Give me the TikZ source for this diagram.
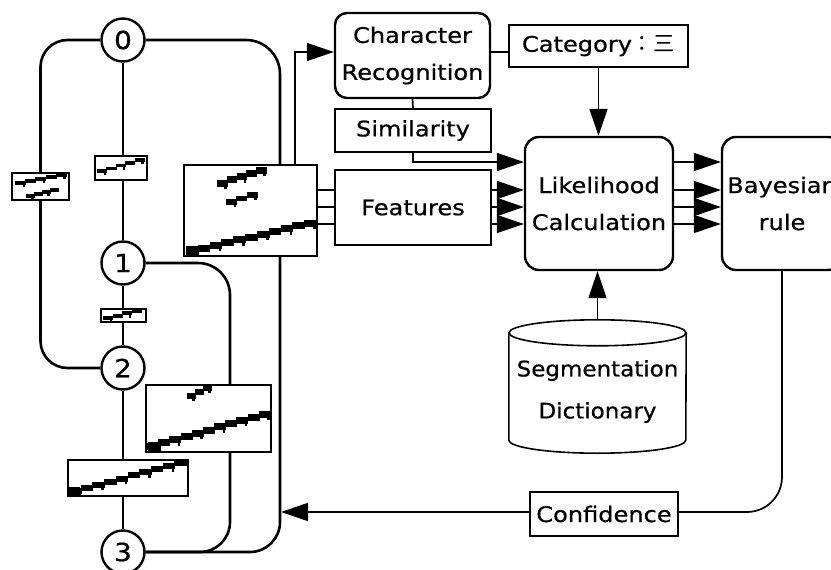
\documentclass[tikz,border=0pt]{standalone}
\usepackage{fontspec}
\setmainfont{DejaVu Sans}[FakeStretch=1.12,FakeBold=0.6]
\newfontfamily\drumfont{DejaVu Sans}[FakeStretch=1.07,FakeBold=0.6]
\newfontfamily\cjkfont{Noto Sans CJK JP}
\usetikzlibrary{arrows.meta}

% pixel-like staircase stroke: x1,y1,x2,y2,steps,thickness
\newcommand\stairstroke[6]{%
  \foreach \k in {1,...,#5}{%
    \pgfmathsetmacro\xa{#1+(#3-#1)*(\k-1)/#5}%
    \pgfmathsetmacro\xb{#1+(#3-#1)*\k/#5+0.8}%
    \pgfmathsetmacro\yy{#2+(#4-#2)*(\k-1)/(#5-1)}%
    \fill (\xa,\yy-#6/2) rectangle (\xb,\yy+#6/2);
    \ifodd\k
      \fill (\xb-3.5,\yy) rectangle (\xb-1,\yy+#6/2+2.5);
    \fi
  }}

\begin{document}
\begin{tikzpicture}[x=1pt,y=-1pt,
  lbl/.style={font=\fontsize{21.5}{37}\selectfont, align=center, inner sep=0pt},
  boxr/.style={lbl, draw, line width=2.4pt, rounded corners=12pt, fill=white},
  boxs/.style={lbl, draw, line width=2.4pt, fill=white},
  state/.style={circle, draw, line width=2.4pt, fill=white, minimum size=43pt,
    inner sep=0pt, font=\fontsize{25}{25}\selectfont},
  seg/.style={draw, line width=1.6pt, fill=white, inner sep=0pt},
  loopline/.style={line width=2.6pt},
  conn/.style={line width=1.7pt},
  arr/.style={conn, -{Triangle[length=27pt,width=18pt]}},
]
\useasboundingbox (0,0) rectangle (831,570);
\clip (0,0) rectangle (831,570);

% segmentation graph states
\node[state] (n0) at (123,40)  {0};
\node[state] (n1) at (123,263) {1};
\node[state] (n2) at (123,368) {2};
\node[state] (n3) at (123,552) {3};

% candidate segment images on the arcs
\node[seg, minimum width=57pt,  minimum height=27pt] (imgL)  at (40.5,186.5) {};
\node[seg, minimum width=52pt,  minimum height=24pt] (img01) at (121,168) {};
\node[seg, minimum width=45pt,  minimum height=13pt] (img12) at (123.5,315.5) {};
\node[seg, minimum width=120pt, minimum height=36pt] (img23) at (128,478) {};
\node[seg, minimum width=125pt, minimum height=67pt] (img13) at (208.5,418.5) {};
\node[seg, minimum width=133pt, minimum height=91pt] (img03) at (250.5,210.5) {};

% handwriting strokes inside the segment images
\stairstroke{15}{183}{66}{175}{5}{3.5}
\stairstroke{26}{196}{58}{190}{4}{3.5}
\stairstroke{97}{171}{144}{160}{5}{3.5}
\stairstroke{103}{318}{141}{311}{4}{4}
\stairstroke{69}{491}{186}{463}{10}{6}
\stairstroke{187}{396}{211}{388}{3}{5.5}
\stairstroke{147}{446}{270}{414}{11}{7}
\stairstroke{217}{183}{266}{170}{5}{7}
\stairstroke{226}{202}{257}{195}{3}{5.5}
\stairstroke{186}{251}{316}{223}{11}{7}
\fill (186,246) rectangle (199,256);
\fill (148,442) rectangle (161,452);
\fill (69,487) rectangle (80,496);

% processing blocks
\node[boxr, minimum width=155pt, minimum height=85pt] (cr)   at (412.5,55.5) {Character\\Recognition};
\node[boxs, minimum width=179pt, minimum height=42pt] (cat)  at (598.5,46) {Category{\cjkfont ：三}};
\node[boxs, minimum width=156pt, minimum height=43pt] (sim)  at (413,130.5) {Similarity};
\node[boxs, minimum width=156pt, minimum height=75pt] (feat) at (413,207.5) {Features};
\node[boxr, minimum width=148pt, minimum height=133pt, rounded corners=14pt] (lik) at (599,203.5) {Likelihood\\Calculation};
\node[boxr, minimum width=120pt, minimum height=133pt, rounded corners=14pt] (bay) at (782,203.5) {Bayesian\\rule};
\node[boxs, minimum width=148pt, minimum height=44pt] (conf) at (604,514) {Confidence};

% dictionary drum
\node[lbl, minimum width=177pt, minimum height=133pt] (cyl) at (597.5,386.5) {};
\filldraw[fill=white, line width=1.6pt]
  ([yshift=-13pt]cyl.north west) -- ([yshift=13pt]cyl.south west)
  arc[start angle=180, end angle=360, x radius=88.5pt, y radius=13pt]
  -- ([yshift=-13pt]cyl.north east);
\draw[line width=1.6pt] ([yshift=-13pt]cyl.north) ellipse[x radius=88.5pt, y radius=13pt];
\node[lbl, font=\drumfont\fontsize{21.5}{42}\selectfont] at ([yshift=-5pt]cyl.center) {Segmentation\\Dictionary};

% helper positions
\coordinate (loopx) at (280,0);
\coordinate (loopy) at (230,0);
\coordinate (tapx)  at (295,0);
\coordinate (ycr) at (0,52);
\coordinate (ya) at (0,162);
\coordinate (yb) at (0,190);
\coordinate (yc) at (0,207);
\coordinate (yd) at (0,224);
\coordinate (yconf) at (0,512);
\coordinate (fbx) at (281,0);

% arcs of the segmentation graph
\draw[loopline, rounded corners=27pt] (n0.west) -| (imgL.north);
\draw[loopline, rounded corners=27pt] (imgL.south) |- (n2.west);
\draw[loopline] (n0.south) -- (n0.south |- img01.north);
\draw[loopline] (n0.south |- img01.south) -- (n1.north);
\draw[loopline] (n1.south) -- (n1.south |- img12.north);
\draw[loopline] (n1.south |- img12.south) -- (n2.north);
\draw[loopline] (n2.south) -- (n2.south |- img23.north);
\draw[loopline] (n2.south |- img23.south) -- (n3.north);
\draw[loopline, rounded corners=32pt] (n1.east) -| (img13.north -| loopy);
\draw[loopline, rounded corners=30pt] (img13.south -| loopy) |- (n3.east);
\draw[loopline, rounded corners=34pt] (n0.east) -| (img03.north -| loopx);
\draw[loopline, rounded corners=30pt] (img03.south -| loopx) |- (n3.east);

% data flow
\draw[arr] (img03.north -| tapx) |- (cr.west |- ycr);
\draw[conn] (cr.east |- ycr) -- (cat.west |- ycr);
\draw[conn] (cr.south) -- (sim.north);
\draw[arr] (sim.south) |- (lik.west |- ya);
\foreach \r in {yb,yc,yd}{
  \draw[conn] (img03.east |- \r) -- (feat.west |- \r);
  \draw[arr] (feat.east |- \r) -- (lik.west |- \r);
}
\draw[arr] (cat.south) -- (cat.south |- lik.north);
\foreach \r in {ya,yb,yc,yd}{
  \draw[arr] (lik.east |- \r) -- (bay.west |- \r);
}
\draw[arr] (cyl.north) -- (cyl.north |- lik.south);
\draw[conn, rounded corners=35pt] (bay.south) |- (conf.east |- yconf);
\draw[arr] (conf.west |- yconf) -- (fbx |- yconf);
\end{tikzpicture}
\end{document}
